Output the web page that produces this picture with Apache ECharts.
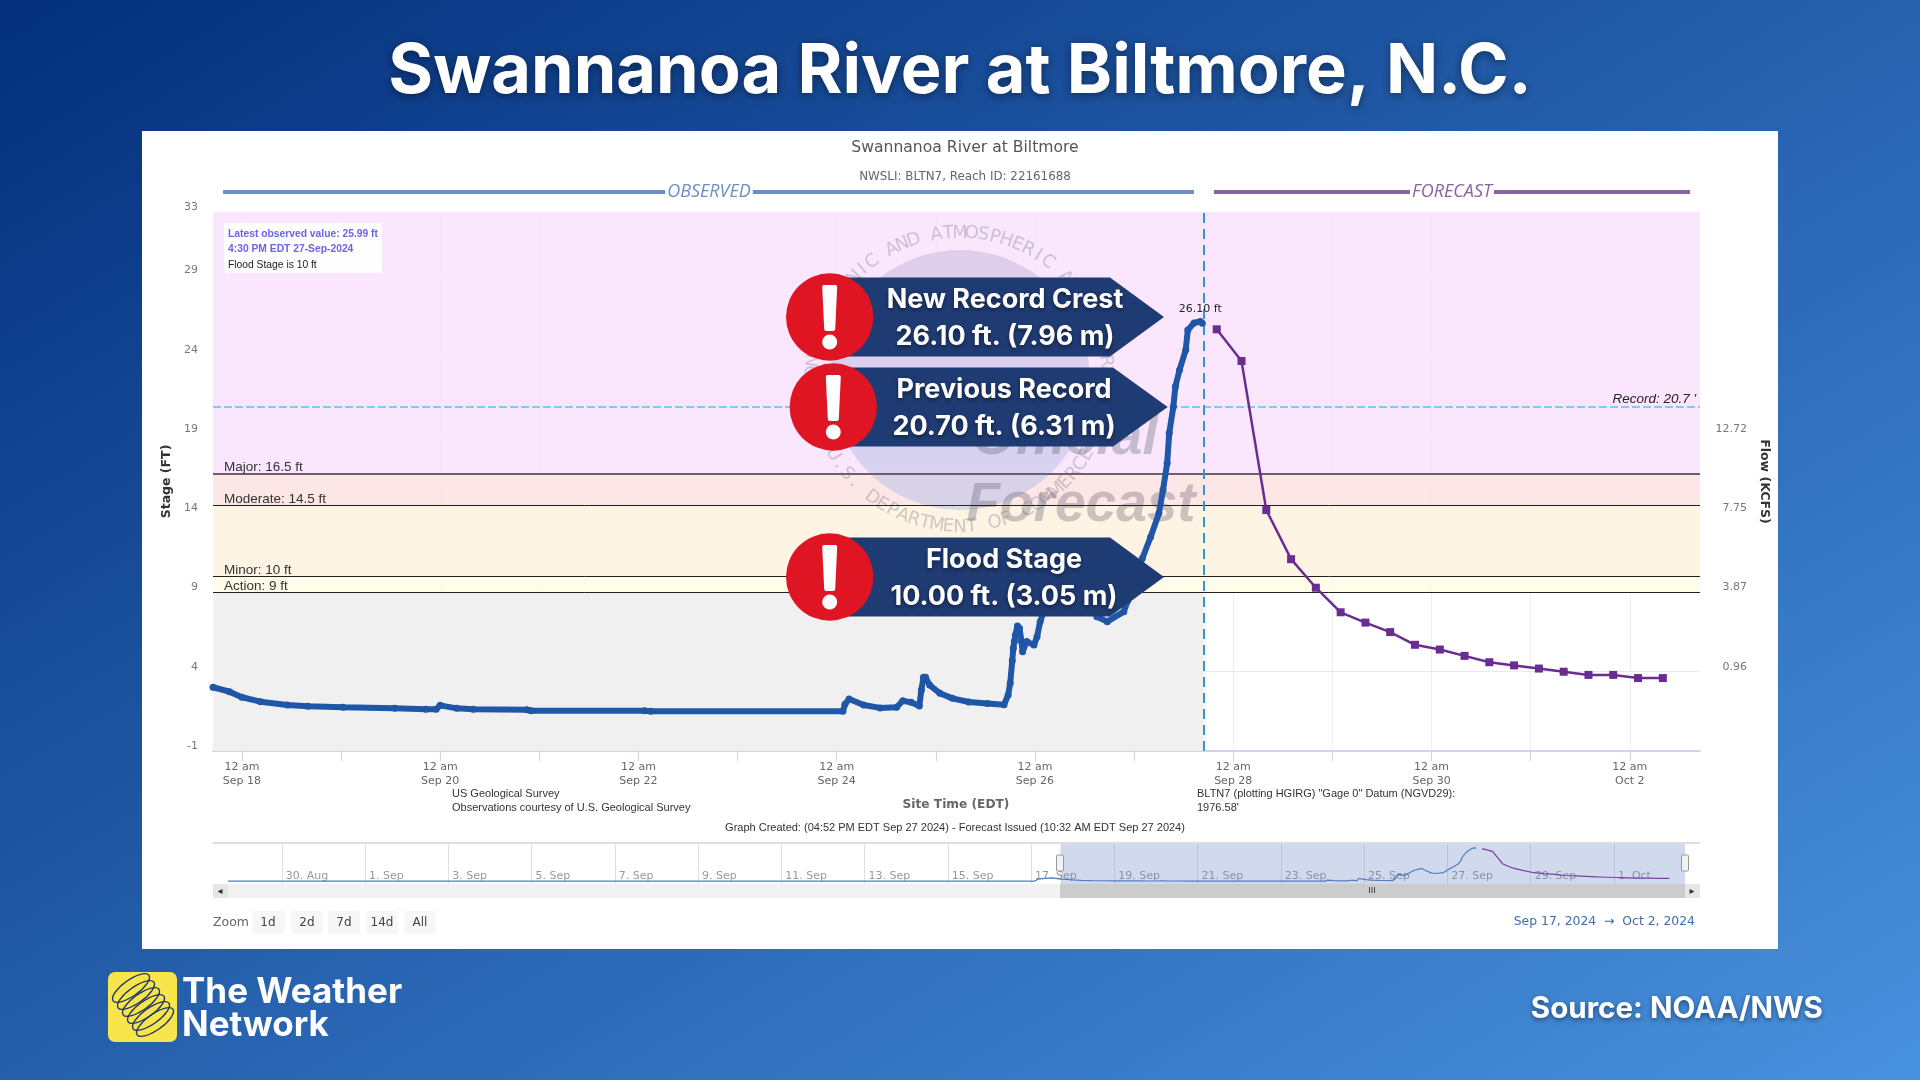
<!DOCTYPE html>
<html>
<head>
    <meta charset="utf-8">
    <title>Swannanoa River at Biltmore, N.C.</title>
    <script src="https://cdn.jsdelivr.net/npm/echarts@6/dist/echarts.min.js"></script>
    <style>
        html, body { margin: 0; padding: 0; }
        #chart1 { width: 1920px; height: 1080px; }
    </style>
</head>
<body>
<div id="chart1"></div>
<script type="text/javascript">
    // observed stage (ft)
    var observedTimes = [
        '2024-09-17 17:00', '2024-09-17 21:00', '2024-09-18 00:00', '2024-09-18 04:30', '2024-09-18 11:00', '2024-09-18 16:00',
        '2024-09-19 00:30', '2024-09-19 13:00', '2024-09-19 20:30', '2024-09-19 23:00', '2024-09-20 00:00', '2024-09-20 04:00',
        '2024-09-20 08:00', '2024-09-20 21:00', '2024-09-20 22:00', '2024-09-22 01:30', '2024-09-22 03:00', '2024-09-24 01:30',
        '2024-09-24 02:00', '2024-09-24 03:00', '2024-09-24 06:30', '2024-09-24 10:30', '2024-09-24 14:30', '2024-09-24 16:00',
        '2024-09-24 18:00', '2024-09-24 20:00', '2024-09-24 20:30', '2024-09-24 21:00', '2024-09-24 21:30', '2024-09-24 22:30',
        '2024-09-25 01:00', '2024-09-25 04:00', '2024-09-25 08:00', '2024-09-25 12:30', '2024-09-25 16:30', '2024-09-25 17:30',
        '2024-09-25 18:00', '2024-09-25 18:30', '2024-09-25 18:45', '2024-09-25 19:00', '2024-09-25 19:15', '2024-09-25 19:45',
        '2024-09-25 20:15', '2024-09-25 20:45', '2024-09-25 21:00', '2024-09-25 22:00', '2024-09-25 23:45', '2024-09-26 00:30',
        '2024-09-26 01:15', '2024-09-26 02:00', '2024-09-26 05:00', '2024-09-26 09:00', '2024-09-26 12:00', '2024-09-26 15:00',
        '2024-09-26 17:30', '2024-09-26 21:30', '2024-09-26 22:30', '2024-09-27 02:00', '2024-09-27 04:00', '2024-09-27 06:00',
        '2024-09-27 07:00', '2024-09-27 08:00', '2024-09-27 08:30', '2024-09-27 09:30', '2024-09-27 10:00', '2024-09-27 11:00',
        '2024-09-27 12:30', '2024-09-27 13:00', '2024-09-27 14:30', '2024-09-27 16:00', '2024-09-27 16:30'
    ];
    var observedStage = [
        3.02, 2.74, 2.39, 2.11, 1.9, 1.82,
        1.76, 1.69, 1.63, 1.63, 1.88, 1.69,
        1.63, 1.6, 1.54, 1.54, 1.5, 1.5,
        1.95, 2.28, 1.9, 1.72, 1.76, 2.17,
        2.07, 1.84, 2.85, 3.65, 3.65, 3.16,
        2.64, 2.32, 2.09, 2.0, 1.92, 2.53,
        3.27, 4.7, 5.48, 5.9, 6.3, 6.89,
        6.74, 5.9, 5.26, 5.9, 5.69, 6.2,
        7.16, 7.7, 9.6, 11.0, 9.0, 7.47,
        7.16, 7.79, 8.5, 11.16, 12.5, 14.0,
        15.47, 17.15, 19.04, 20.72, 22.0, 23.04,
        24.3, 25.56, 26.0, 26.1, 25.99
    ];

    // forecast stage (ft), one point every 6 hours
    var forecastTimes = [
        '2024-09-27 20:00', '2024-09-28 02:00', '2024-09-28 08:00', '2024-09-28 14:00', '2024-09-28 20:00',
        '2024-09-29 02:00', '2024-09-29 08:00', '2024-09-29 14:00', '2024-09-29 20:00', '2024-09-30 02:00',
        '2024-09-30 08:00', '2024-09-30 14:00', '2024-09-30 20:00', '2024-10-01 02:00', '2024-10-01 08:00',
        '2024-10-01 14:00', '2024-10-01 20:00', '2024-10-02 02:00', '2024-10-02 08:00'
    ];
    var forecastStage = [
        25.6, 23.6, 14.2, 11.1, 9.3,
        7.75, 7.1, 6.5, 5.7, 5.4,
        5.0, 4.6, 4.4, 4.2, 4.0,
        3.8, 3.8, 3.6, 3.6
    ];

    // earlier record, only seen in the navigator strip
    var priorTimes = [
        '2024-08-28 17:00', '2024-09-01 00:00', '2024-09-05 00:00', '2024-09-09 00:00', '2024-09-13 00:00',
        '2024-09-16 00:00', '2024-09-17 02:00', '2024-09-17 04:00', '2024-09-17 08:00', '2024-09-17 12:00'
    ];
    var priorStage = [1.5, 1.6, 1.5, 1.5, 1.5, 1.5, 1.5, 3.0, 3.6, 4.0];

    var stageTicks = [-1, 4, 9, 14, 19, 24, 29, 33];
    var flowTickStages = [4, 9, 14, 19];
    var flowTickLabels = ['0.96', '3.87', '7.75', '12.72'];

    var levelNames = ['Major', 'Moderate', 'Minor', 'Action'];
    var levelStages = [16.5, 14.5, 10, 9];
    var recordStage = 20.7;
    var crestTime = '2024-09-27 16:00';
    var crestStage = 26.1;

    var viewStart = '2024-09-17 17:00';
    var viewEnd = '2024-10-02 17:00';
    var navStart = '2024-08-28 17:00';
    var nowTime = '2024-09-27 16:52';

    var dayTicks = [
        '2024-09-18 00:00', '2024-09-19 00:00', '2024-09-20 00:00', '2024-09-21 00:00', '2024-09-22 00:00',
        '2024-09-23 00:00', '2024-09-24 00:00', '2024-09-25 00:00', '2024-09-26 00:00', '2024-09-27 00:00',
        '2024-09-28 00:00', '2024-09-29 00:00', '2024-09-30 00:00', '2024-10-01 00:00', '2024-10-02 00:00'
    ];
    var dayLabels = [
        '2024-09-18 00:00', '2024-09-20 00:00', '2024-09-22 00:00', '2024-09-24 00:00',
        '2024-09-26 00:00', '2024-09-28 00:00', '2024-09-30 00:00', '2024-10-02 00:00'
    ];
    var navTicks = [
        '2024-08-30 00:00', '2024-09-01 00:00', '2024-09-03 00:00', '2024-09-05 00:00', '2024-09-07 00:00', '2024-09-09 00:00',
        '2024-09-11 00:00', '2024-09-13 00:00', '2024-09-15 00:00', '2024-09-17 00:00', '2024-09-19 00:00', '2024-09-21 00:00',
        '2024-09-23 00:00', '2024-09-25 00:00', '2024-09-27 00:00', '2024-09-29 00:00', '2024-10-01 00:00'
    ];

    var MONTHS = ['Jan', 'Feb', 'Mar', 'Apr', 'May', 'Jun', 'Jul', 'Aug', 'Sep', 'Oct', 'Nov', 'Dec'];
    var TICK_FONT = 'DejaVu Sans';
    var NOTE_FONT = 'Liberation Sans';
    var HEAD_FONT = 'Inter';

    // time axes choke on customValues in v6, so the x axes are plain value axes in ms
    function ms(s) {
        return new Date(s.replace(' ', 'T') + ':00').getTime();
    }

    function zip(times, values) {
        return times.map(function (t, i) { return [ms(t), values[i]]; });
    }

    // plain text element for the graphic layer
    function txt(x, y, text, size, color, opts) {
        opts = opts || {};
        return {
            type: 'text', x: x, y: y, z: opts.z || 20, silent: true,
            rotation: opts.rotation || 0,
            style: {
                text: text,
                fill: color,
                font: (opts.style || 'normal') + ' ' + (opts.weight || 'normal') + ' ' + size + 'px "' + (opts.family || NOTE_FONT) + '"',
                textAlign: opts.align || 'left',
                textVerticalAlign: 'middle',
                textShadowColor: opts.shadow ? 'rgba(0,0,0,0.45)' : undefined,
                textShadowBlur: opts.shadow ? opts.shadow : 0,
                textShadowOffsetY: opts.shadow ? 2 : 0,
                backgroundColor: opts.bg,
                padding: opts.bg ? [0, 2] : 0
            }
        };
    }

    function box(x, y, w, h, color, z, r) {
        return { type: 'rect', z: z || 5, silent: true, shape: { x: x, y: y, width: w, height: h, r: r || 0 }, style: { fill: color } };
    }

    // navigator drag handle
    function handle(x) {
        return { type: 'rect', z: 8, silent: true, shape: { x: x - 3.5, y: 855, width: 7, height: 16, r: 1 }, style: { fill: '#f2f2f2', stroke: '#999999', lineWidth: 1 } };
    }

    // red alert badge plus navy arrow banner
    function banner(cx, cy, shoulder, tip, line1, line2, textX) {
        var top = cy - 39.5, bottom = cy + 39.5;
        return [
            { type: 'polygon', z: 30, silent: true, shape: { points: [[cx, top], [shoulder, top], [tip, cy], [shoulder, bottom], [cx, bottom]] }, style: { fill: '#1f3b73' } },
            { type: 'circle', z: 31, silent: true, shape: { cx: cx, cy: cy, r: 43.7 }, style: { fill: '#e01524' } },
            { type: 'polygon', z: 32, silent: true, shape: { points: [[cx - 5.5, cy - 30], [cx + 5.5, cy - 30], [cx + 3.5, cy + 12], [cx - 3.5, cy + 12]] }, style: { fill: '#fff', stroke: '#fff', lineWidth: 4, lineJoin: 'round' } },
            { type: 'circle', z: 32, silent: true, shape: { cx: cx, cy: cy + 25, r: 7.5 }, style: { fill: '#fff' } },
            txt(textX, cy - 17, line1, 27, '#fff', { weight: 'bold', family: HEAD_FONT, align: 'center', z: 33, shadow: 4 }),
            txt(textX, cy + 20, line2, 27, '#fff', { weight: 'bold', family: HEAD_FONT, align: 'center', z: 33, shadow: 4 })
        ];
    }

    // letters of the seal's ring text, laid out along the circle
    function ringText(label, cx, cy, r, midAngle, step, inward) {
        return label.split('').map(function (ch, i) {
            var a = midAngle + (i - (label.length - 1) / 2) * step;
            return {
                type: 'text', z: 2, silent: true,
                x: cx + r * Math.sin(a),
                y: cy - r * Math.cos(a),
                rotation: inward ? -a : Math.PI - a,
                style: { text: ch, fill: 'rgba(120,115,135,0.35)', font: '18px "DejaVu Sans"', textAlign: 'center', textVerticalAlign: 'middle' }
            };
        });
    }

    var graphics = [
        box(142, 131, 1636, 818, '#ffffff', -10),
        txt(960, 72, 'Swannanoa River at Biltmore, N.C.', 68.5, '#ffffff', { weight: 'bold', family: HEAD_FONT, align: 'center', shadow: 10 }),
        txt(965, 148, 'Swannanoa River at Biltmore', 15.6, '#555555', { family: TICK_FONT, align: 'center' }),
        txt(965, 177, 'NWSLI: BLTN7, Reach ID: 22161688', 11.9, '#666666', { family: TICK_FONT, align: 'center' }),

        // observed / forecast header rules
        box(223, 190, 971, 4, '#6c8fc7', 6),
        txt(709, 192, 'OBSERVED', 18, '#6c8fc7', { style: 'italic', family: 'Open Sans', align: 'center', bg: '#ffffff' }),
        box(1214, 190, 476, 4, '#8a63a3', 6),
        txt(1452, 192, 'FORECAST', 18, '#8a63a3', { style: 'italic', family: 'Open Sans', align: 'center', bg: '#ffffff' }),

        // latest value box
        box(224, 223, 158, 50, 'rgba(255,255,255,0.95)', 6, 3),
        txt(228, 234, 'Latest observed value: 25.99 ft', 10.3, '#6b64e8', { weight: 'bold' }),
        txt(228, 249, '4:30 PM EDT 27-Sep-2024', 10.3, '#6b64e8', { weight: 'bold' }),
        txt(228, 265, 'Flood Stage is 10 ft', 10.3, '#222222'),

        // watermark
        { type: 'circle', z: 2, silent: true, shape: { cx: 960, cy: 380, r: 130 }, style: { fill: { type: 'linear', x: 0, y: 0, x2: 0, y2: 1, colorStops: [{ offset: 0, color: 'rgba(195,180,215,0.5)' }, { offset: 0.55, color: 'rgba(190,190,225,0.55)' }, { offset: 1, color: 'rgba(185,195,235,0.55)' }] } } },
        txt(1065, 439, 'Official', 55, 'rgba(100,100,110,0.34)', { weight: 'bold', style: 'italic', align: 'center', z: 3 }),
        txt(1081, 506, 'Forecast', 55, 'rgba(100,100,110,0.34)', { weight: 'bold', style: 'italic', align: 'center', z: 3 }),

        // footnotes
        txt(452, 794, 'US Geological Survey', 11, '#333333'),
        txt(452, 808, 'Observations courtesy of U.S. Geological Survey', 11, '#333333'),
        txt(956, 805, 'Site Time (EDT)', 12.2, '#666666', { weight: 'bold', family: TICK_FONT, align: 'center' }),
        txt(955, 828, 'Graph Created: (04:52 PM EDT Sep 27 2024) - Forecast Issued (10:32 AM EDT Sep 27 2024)', 11, '#333333', { align: 'center' }),
        txt(1197, 794, 'BLTN7 (plotting HGIRG) "Gage 0" Datum (NGVD29):', 11, '#333333'),
        txt(1197, 808, "1976.58'", 11, '#333333'),

        // navigator chrome
        box(213, 842, 1487, 2, '#dddddd', 6),
        box(213, 884, 1487, 14, '#f2f2f2', 4),
        box(1060, 884, 625, 14, '#cccccc', 5),
        box(213, 884, 15, 14, '#e6e6e6', 5),
        box(1685, 884, 15, 14, '#e6e6e6', 5),
        txt(220, 891, '◂', 10, '#333333', { family: TICK_FONT, align: 'center' }),
        txt(1692, 891, '▸', 10, '#333333', { family: TICK_FONT, align: 'center' }),
        txt(1372, 891, 'III', 9, '#333333', { align: 'center' }),
        handle(1060),
        handle(1685),

        // range selector
        txt(213, 923, 'Zoom', 12.5, '#666666', { family: TICK_FONT }),
        box(252, 911, 33, 23, '#f7f7f7', 6, 2), txt(268, 923, '1d', 12, '#444444', { family: TICK_FONT, align: 'center' }),
        box(291, 911, 32, 23, '#f7f7f7', 6, 2), txt(307, 923, '2d', 12, '#444444', { family: TICK_FONT, align: 'center' }),
        box(328, 911, 32, 23, '#f7f7f7', 6, 2), txt(344, 923, '7d', 12, '#444444', { family: TICK_FONT, align: 'center' }),
        box(366, 911, 32, 23, '#f7f7f7', 6, 2), txt(382, 923, '14d', 12, '#444444', { family: TICK_FONT, align: 'center' }),
        box(404, 911, 32, 23, '#f7f7f7', 6, 2), txt(420, 923, 'All', 12, '#444444', { family: TICK_FONT, align: 'center' }),
        txt(1695, 922, 'Sep 17, 2024  →  Oct 2, 2024', 12.4, '#3f6db0', { family: TICK_FONT, align: 'right' }),

        // footer
        box(108, 972, 69, 70, '#f8e44b', 6, 7),
        txt(182, 992, 'The Weather', 35, '#ffffff', { weight: 'bold', family: HEAD_FONT }),
        txt(182, 1025, 'Network', 35, '#ffffff', { weight: 'bold', family: HEAD_FONT }),
        txt(1823, 1009, 'Source: NOAA/NWS', 29.6, '#ffffff', { weight: 'bold', family: HEAD_FONT, align: 'right', shadow: 5 })
    ];

    // logo swirl
    [[131, 988], [136, 995], [141, 1002], [146, 1009], [151, 1016], [155, 1022]].forEach(function (c) {
        graphics.push({
            type: 'ellipse', z: 7, silent: true, x: c[0], y: c[1], rotation: 0.62,
            shape: { cx: 0, cy: 0, rx: 22, ry: 8 },
            style: { fill: 'none', stroke: '#1f3564', lineWidth: 1.4 }
        });
    });

    graphics = graphics
        .concat(ringText('NATIONAL OCEANIC AND ATMOSPHERIC ADMINISTRATION', 960, 380, 147, 0, 0.08, true))
        .concat(ringText('U.S. DEPARTMENT OF COMMERCE', 960, 380, 147, Math.PI, -0.08, false))
        .concat(banner(829.7, 317, 1110, 1164, 'New Record Crest', '26.10 ft. (7.96 m)', 1005))
        .concat(banner(833.3, 407, 1113, 1167.7, 'Previous Record', '20.70 ft. (6.31 m)', 1004))
        .concat(banner(829.7, 577, 1110, 1164, 'Flood Stage', '10.00 ft. (3.05 m)', 1004));

    var levelLines = levelStages.map(function (v, i) {
        return {
            yAxis: v,
            lineStyle: { color: i === 0 ? '#6d5f6f' : '#222222', width: i === 0 ? 2 : 1, type: 'solid' },
            label: { formatter: levelNames[i] + ': ' + v + ' ft' }
        };
    });

    var myChart1 = echarts.init(document.getElementById('chart1'));

    myChart1.setOption({
        animation: false,
        backgroundColor: {
            type: 'linear', x: 0, y: 0, x2: 0.505, y2: 1.52,
            colorStops: [{ offset: 0, color: '#032f7c' }, { offset: 1, color: '#4891de' }]
        },
        grid: [
            { left: 213, right: 220, top: 212, bottom: 329 },
            { left: 228, right: 235, top: 844, bottom: 196 }
        ],
        xAxis: [
            {
                type: 'value', gridIndex: 0, min: ms(viewStart), max: ms(viewEnd),
                axisLine: { onZero: false, lineStyle: { color: '#ccd6eb', width: 2 } },
                axisTick: { length: 10, lineStyle: { color: '#ccd6eb' }, customValues: dayTicks.map(ms) },
                axisLabel: {
                    customValues: dayLabels.map(ms),
                    margin: 9,
                    color: '#666666',
                    fontFamily: TICK_FONT,
                    fontSize: 11,
                    lineHeight: 14,
                    formatter: function (value) {
                        var d = new Date(value);
                        return '12 am\n' + MONTHS[d.getMonth()] + ' ' + d.getDate();
                    }
                },
                splitLine: { show: true, lineStyle: { color: 'rgba(200,200,215,0.3)' } }
            },
            {
                type: 'value', gridIndex: 1, min: ms(navStart), max: ms(viewEnd),
                axisLine: { show: false, onZero: false },
                axisTick: { show: false, customValues: navTicks.map(ms) },
                axisLabel: {
                    inside: true,
                    customValues: navTicks.map(ms),
                    margin: 2,
                    align: 'left',
                    padding: [0, 0, 0, 4],
                    color: '#999999',
                    fontFamily: TICK_FONT,
                    fontSize: 11,
                    formatter: function (value) {
                        var d = new Date(value);
                        return d.getDate() + '. ' + MONTHS[d.getMonth()];
                    }
                },
                splitLine: { show: true, lineStyle: { color: '#e0e0e0' } }
            }
        ],
        yAxis: [
            {
                type: 'value', gridIndex: 0, min: -1, max: 33,
                name: 'Stage (FT)', nameLocation: 'middle', nameGap: 40,
                nameTextStyle: { color: '#333333', fontFamily: TICK_FONT, fontSize: 12.5, fontWeight: 'bold' },
                axisLine: { show: false },
                axisTick: { show: false, customValues: stageTicks },
                axisLabel: { customValues: stageTicks, margin: 15, verticalAlign: 'bottom', lineHeight: 10, color: '#777777', fontFamily: TICK_FONT, fontSize: 11 },
                splitLine: { show: true, lineStyle: { color: 'rgba(200,200,215,0.4)' } }
            },
            {
                type: 'value', gridIndex: 0, min: -1, max: 33, position: 'right',
                name: 'Flow (KCFS)', nameLocation: 'middle', nameGap: 58, nameRotate: -90,
                nameTextStyle: { color: '#333333', fontFamily: TICK_FONT, fontSize: 12.5, fontWeight: 'bold' },
                axisLine: { show: false },
                axisTick: { show: false, customValues: flowTickStages },
                axisLabel: {
                    customValues: flowTickStages,
                    margin: 47,
                    align: 'right',
                    verticalAlign: 'bottom',
                    lineHeight: 10,
                    color: '#777777',
                    fontFamily: TICK_FONT,
                    fontSize: 11,
                    formatter: function (value) { return flowTickLabels[flowTickStages.indexOf(value)]; }
                },
                splitLine: { show: false }
            },
            { type: 'value', gridIndex: 1, min: -0.6, max: 29, show: false }
        ],
        series: [
            {
                name: 'Stage bands', type: 'line', xAxisIndex: 0, yAxisIndex: 0, data: [], z: 1, silent: true,
                markArea: {
                    silent: true, z: 1,
                    data: [
                        [{ xAxis: ms(viewStart), yAxis: levelStages[0], itemStyle: { color: 'rgba(249,228,253,0.88)' } }, { xAxis: ms(viewEnd), yAxis: 33 }],
                        [{ xAxis: ms(viewStart), yAxis: levelStages[1], itemStyle: { color: 'rgba(253,226,226,0.88)' } }, { xAxis: ms(viewEnd), yAxis: levelStages[0] }],
                        [{ xAxis: ms(viewStart), yAxis: levelStages[2], itemStyle: { color: 'rgba(253,243,224,0.88)' } }, { xAxis: ms(viewEnd), yAxis: levelStages[1] }],
                        [{ xAxis: ms(viewStart), yAxis: levelStages[3], itemStyle: { color: 'rgba(255,253,230,0.88)' } }, { xAxis: ms(viewEnd), yAxis: levelStages[2] }],
                        [{ xAxis: ms(viewStart), yAxis: -1, itemStyle: { color: 'rgba(238,238,238,0.9)' } }, { xAxis: ms(nowTime), yAxis: levelStages[3] }]
                    ]
                },
                markLine: {
                    silent: true, symbol: 'none', z: 4,
                    label: { position: 'insideStartTop', distance: [11, -1], color: '#333333', fontFamily: NOTE_FONT, fontSize: 13.5 },
                    data: levelLines.concat([
                        {
                            yAxis: recordStage,
                            lineStyle: { color: '#7ecdeb', width: 2, type: [8, 3] },
                            label: { position: 'insideEndTop', distance: [4, 1], formatter: "Record: " + recordStage + " '", fontStyle: 'italic', color: '#222222', fontSize: 13.5 }
                        },
                        { xAxis: ms(nowTime), lineStyle: { color: '#2e9bd0', width: 2, type: [10, 6] }, label: { show: false } }
                    ])
                }
            },
            {
                name: 'Observed', type: 'line', xAxisIndex: 0, yAxisIndex: 0, z: 6,
                data: zip(observedTimes, observedStage),
                symbol: 'circle', symbolSize: 7, showSymbol: true, showAllSymbol: true,
                itemStyle: { color: '#1f56a8' },
                lineStyle: { color: '#1f56a8', width: 6 },
                markPoint: {
                    symbol: 'circle', symbolSize: 1, z: 7,
                    itemStyle: { color: 'transparent' },
                    label: { position: 'top', distance: 6, formatter: crestStage.toFixed(2) + ' ft', color: '#222222', fontFamily: TICK_FONT, fontSize: 11 },
                    data: [{ coord: [ms(crestTime), crestStage] }]
                }
            },
            {
                name: 'Forecast', type: 'line', xAxisIndex: 0, yAxisIndex: 0, z: 6,
                data: zip(forecastTimes, forecastStage),
                symbol: 'rect', symbolSize: 8, showSymbol: true,
                itemStyle: { color: '#6a2c91' },
                lineStyle: { color: '#6a2c91', width: 2.5 }
            },
            {
                name: 'Navigator observed', type: 'line', xAxisIndex: 1, yAxisIndex: 2, z: 6, showSymbol: false,
                data: zip(priorTimes.concat(observedTimes), priorStage.concat(observedStage)),
                lineStyle: { color: '#4f7fc0', width: 1.2 },
                markArea: {
                    silent: true, z: 3,
                    itemStyle: { color: 'rgba(102,133,194,0.3)' },
                    data: [[{ xAxis: ms(viewStart) }, { xAxis: ms(viewEnd) }]]
                }
            },
            {
                name: 'Navigator forecast', type: 'line', xAxisIndex: 1, yAxisIndex: 2, z: 6, showSymbol: false,
                data: zip(forecastTimes, forecastStage),
                lineStyle: { color: '#7a3fa3', width: 1.2 }
            }
        ],
        graphic: { elements: graphics }
    });
</script>
</body>
</html>
